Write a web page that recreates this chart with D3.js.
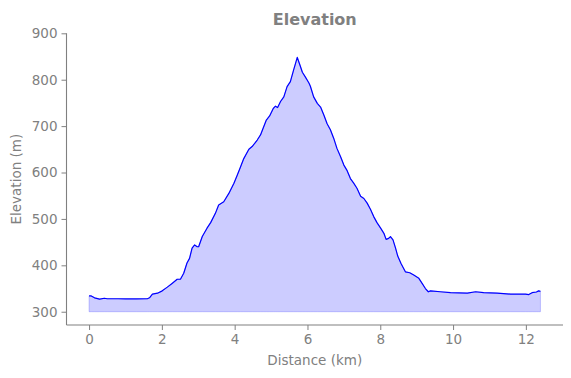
<!DOCTYPE html>
<html>
<head>
<meta charset="utf-8">
<script src="https://cdn.jsdelivr.net/npm/d3@7"></script>
<style>
  body { margin: 0; background: white; }
  text { font-family: "DejaVu Sans", sans-serif; }
</style>
</head>
<body>
<div id="chart"></div>
<script>
let w = 571;
let h = 378;

// distance along the route (km) and elevation (m)
let distance = [0.00, 0.06, 0.15, 0.29, 0.42, 0.50, 0.80, 1.00, 1.30, 1.60, 1.66, 1.74, 1.88, 2.01, 2.15,
  2.28, 2.42, 2.51, 2.60, 2.69, 2.76, 2.83, 2.90, 2.97, 3.01, 3.11, 3.24, 3.34, 3.47, 3.56, 3.70, 3.84,
  3.98, 4.07, 4.16, 4.25, 4.39, 4.48, 4.62, 4.71, 4.80, 4.87, 4.96, 5.06, 5.12, 5.18, 5.26, 5.35, 5.44, 5.53,
  5.62, 5.72, 5.80, 5.86, 5.94, 6.04, 6.08, 6.17, 6.27, 6.36, 6.45, 6.54, 6.63, 6.72, 6.81, 6.91, 7.00,
  7.09, 7.18, 7.27, 7.36, 7.46, 7.55, 7.64, 7.73, 7.82, 7.91, 8.01, 8.10, 8.16, 8.23, 8.28, 8.35, 8.42,
  8.48, 8.57, 8.69, 8.81, 8.92, 9.06, 9.15, 9.24, 9.32, 9.38, 9.65, 9.93, 10.39, 10.62, 10.84, 11.21,
  11.58, 11.85, 11.99, 12.08, 12.17, 12.29, 12.35, 12.40];
let elevation = [334, 334, 330, 327, 329, 328, 328, 327.5, 327.5, 328, 330, 338, 340, 345, 353,
  361, 370, 370, 383, 405, 415, 437, 444, 440, 440, 462, 480, 492, 512, 530, 537, 555,
  577, 594, 612, 630, 650, 656, 670, 681, 699, 713, 722, 738, 743, 740, 753, 763, 785, 796,
  821, 848, 830, 816, 806, 793, 786, 763, 749, 741, 724, 705, 692, 674, 652, 634, 616,
  604, 587, 577, 566, 549, 544, 534, 521, 505, 492, 480, 469, 456, 458, 462, 455, 437,
  420, 404, 386, 384, 379, 372, 361, 350, 343, 345, 343, 341, 340, 343, 341, 340,
  338, 338, 338, 337, 341, 342.5, 345, 344];

let xTicks = [0, 2, 4, 6, 8, 10, 12];
let yTicks = [300, 400, 500, 600, 700, 800, 900];
let baseElevation = 300;

let data = distance.map((d, i) => ({ x: d, y: elevation[i] }));

let padLeft = 66.5, padRight = 563, padTop = 33.3, padBottom = 325;
let grey = "#808080";

let viz = d3.select("#chart")
  .append("svg")
  .attr("width", w)
  .attr("height", h)
  .style("background-color", "white");

let xScale = d3.scaleLinear().domain([-0.62, 13.02]).range([padLeft, padRight]);
let yScale = d3.scaleLinear().domain([271.4, 900]).range([padBottom, padTop]);

// filled area down to 300 m
let area = d3.area()
  .x(d => xScale(d.x))
  .y0(yScale(baseElevation))
  .y1(d => yScale(d.y));

viz.append("path")
  .datum(data)
  .attr("d", area)
  .attr("fill", "rgba(0,0,255,0.2)")
  .attr("stroke", "rgba(0,0,255,0.2)")
  .attr("stroke-width", 1);

let line = d3.line()
  .x(d => xScale(d.x))
  .y(d => yScale(d.y));

viz.append("path")
  .datum(data)
  .attr("d", line)
  .attr("fill", "none")
  .attr("stroke", "blue")
  .attr("stroke-width", 1.2)
  .attr("stroke-linejoin", "round");

// axes
let xAxis = d3.axisBottom(xScale).tickValues(xTicks).tickSize(5).tickPadding(4).tickFormat(d3.format("d"));
let xAxisGroup = viz.append("g")
  .attr("transform", "translate(0," + padBottom + ")")
  .call(xAxis);

let yAxis = d3.axisLeft(yScale).tickValues(yTicks).tickSize(5).tickPadding(4).tickFormat(d3.format("d"));
let yAxisGroup = viz.append("g")
  .attr("transform", "translate(" + padLeft + ",0)")
  .call(yAxis);

[xAxisGroup, yAxisGroup].forEach(g => {
  g.select(".domain").remove();
  g.selectAll("line").attr("stroke", grey).attr("stroke-width", 1);
  g.selectAll("text")
    .attr("fill", grey)
    .style("font-size", "13.5px")
    .style("font-family", "'DejaVu Sans', sans-serif");
});

// spines (left and bottom only)
viz.append("line")
  .attr("x1", padLeft).attr("x2", padLeft)
  .attr("y1", padTop).attr("y2", padBottom)
  .attr("stroke", grey).attr("stroke-width", 1.1);
viz.append("line")
  .attr("x1", padLeft).attr("x2", padRight)
  .attr("y1", padBottom).attr("y2", padBottom)
  .attr("stroke", grey).attr("stroke-width", 1.1);

// labels
viz.append("text")
  .text("Elevation")
  .attr("x", (padLeft + padRight) / 2)
  .attr("y", 25)
  .attr("text-anchor", "middle")
  .attr("fill", grey)
  .style("font-size", "16px")
  .style("font-weight", "bold");

viz.append("text")
  .text("Distance (km)")
  .attr("x", (padLeft + padRight) / 2)
  .attr("y", 365)
  .attr("text-anchor", "middle")
  .attr("fill", grey)
  .style("font-size", "13.5px");

viz.append("text")
  .text("Elevation (m)")
  .attr("transform", "translate(21," + ((padTop + padBottom) / 2) + ") rotate(-90)")
  .attr("text-anchor", "middle")
  .attr("fill", grey)
  .style("font-size", "13.5px");
</script>
</body>
</html>
